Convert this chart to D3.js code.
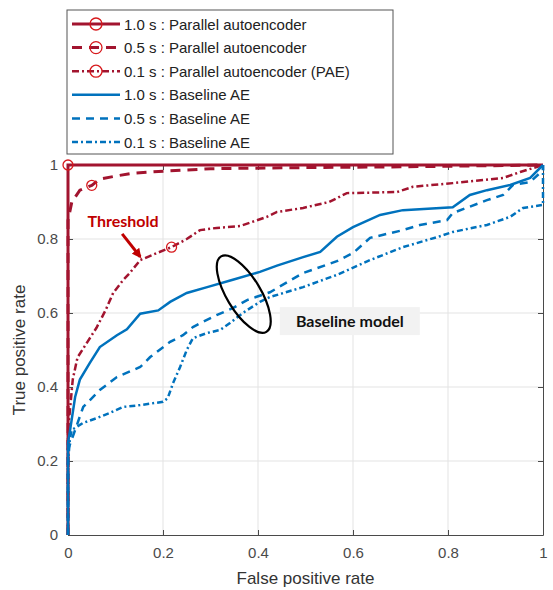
<!DOCTYPE html>
<html lang="en">
<head>
<meta charset="utf-8">
<title>ROC curves: parallel autoencoder vs baseline AE</title>
<script src="https://d3js.org/d3.v7.min.js"></script>
<style>
  body { margin: 0; background: #fff; }
  .tick text { font: 15px "Liberation Sans", Arial, sans-serif; fill: #4a4a4a; }
  .axis path, .axis line { stroke: #4a4a4a; }
</style>
</head>
<body>
<script>
// ROC points, [false positive rate, true positive rate]
const pae10 = [[0, 0], [0, 1], [1, 1]];
const pae05 = [[0, 0], [0, 0.85], [0.008, 0.9], [0.025, 0.932], [0.05, 0.945], [0.067, 0.962],
  [0.1, 0.97], [0.137, 0.978], [0.21, 0.984], [0.3, 0.99], [0.5, 0.993], [0.7, 0.995], [1, 1]];
const pae01 = [[0, 0], [0, 0.28], [0.01, 0.42], [0.02, 0.48], [0.04, 0.52], [0.06, 0.56],
  [0.08, 0.61], [0.095, 0.654], [0.116, 0.689], [0.13, 0.708], [0.152, 0.743], [0.187, 0.762],
  [0.218, 0.778], [0.25, 0.8], [0.278, 0.824], [0.313, 0.83], [0.362, 0.835], [0.419, 0.86],
  [0.44, 0.873], [0.495, 0.884], [0.55, 0.9], [0.587, 0.924], [0.693, 0.927], [0.726, 0.941],
  [0.81, 0.951], [0.916, 0.965], [0.952, 0.981], [1, 1]];
const base10 = [[0, 0], [0, 0.25], [0.004, 0.28], [0.015, 0.373], [0.025, 0.42], [0.046, 0.465],
  [0.067, 0.508], [0.103, 0.54], [0.124, 0.556], [0.152, 0.598], [0.19, 0.607], [0.215, 0.63],
  [0.25, 0.654], [0.293, 0.67], [0.347, 0.69], [0.404, 0.711], [0.44, 0.728], [0.495, 0.751],
  [0.531, 0.765], [0.566, 0.806], [0.6, 0.832], [0.657, 0.865], [0.705, 0.878], [0.81, 0.886],
  [0.846, 0.919], [0.882, 0.932], [0.931, 0.946], [0.973, 0.965], [1, 1]];
const base05 = [[0, 0], [0, 0.23], [0.015, 0.284], [0.032, 0.346], [0.067, 0.392], [0.103, 0.427],
  [0.152, 0.454], [0.173, 0.481], [0.215, 0.522], [0.242, 0.54], [0.263, 0.562], [0.284, 0.576],
  [0.314, 0.595], [0.347, 0.613], [0.377, 0.635], [0.425, 0.656], [0.495, 0.708], [0.566, 0.74],
  [0.6, 0.762], [0.636, 0.803], [0.705, 0.824], [0.741, 0.838], [0.798, 0.851], [0.81, 0.87],
  [0.882, 0.905], [0.916, 0.919], [0.937, 0.946], [0.973, 0.954], [1, 0.986], [1, 1]];
const base01 = [[0, 0], [0, 0.195], [0.004, 0.26], [0.008, 0.284], [0.032, 0.303], [0.061, 0.316],
  [0.088, 0.33], [0.116, 0.346], [0.152, 0.351], [0.2, 0.36], [0.21, 0.37], [0.221, 0.41],
  [0.236, 0.454], [0.25, 0.5], [0.263, 0.532], [0.293, 0.546], [0.32, 0.554], [0.341, 0.573],
  [0.368, 0.6], [0.404, 0.63], [0.425, 0.643], [0.495, 0.67], [0.566, 0.703], [0.636, 0.743],
  [0.705, 0.778], [0.777, 0.805], [0.81, 0.819], [0.882, 0.838], [0.931, 0.86], [0.958, 0.884],
  [1, 0.892], [1, 1]];

const seriesNames = ["1.0 s : Parallel autoencoder", "0.5 s : Parallel autoencoder",
  "0.1 s : Parallel autoencoder (PAE)", "1.0 s : Baseline AE", "0.5 s : Baseline AE", "0.1 s : Baseline AE"];
// index of the single marker drawn on each PAE curve
const markerIdx = [1, 4, 12, null, null, null];
const ticks = [0, 0.2, 0.4, 0.6, 0.8, 1];

const red = "#a2142f", blue = "#0072bd", markRed = "#d7191c";
const styles = [
  { color: red, width: 3, dash: null },
  { color: red, width: 3, dash: "10,7" },
  { color: red, width: 2.5, dash: "7,3,2,3" },
  { color: blue, width: 2.5, dash: null },
  { color: blue, width: 2.5, dash: "8,6" },
  { color: blue, width: 2.5, dash: "6,3,2,3" }
];
const allData = [pae10, pae05, pae01, base10, base05, base01];

const W = 553, H = 590;
const margin = { left: 68, top: 165, right: 10, bottom: 55 };
const w = W - margin.left - margin.right, h = H - margin.top - margin.bottom;

const x = d3.scaleLinear().domain([0, 1]).range([0, w]);
const y = d3.scaleLinear().domain([0, 1]).range([h, 0]);

const svg = d3.select("body").append("svg").attr("width", W).attr("height", H);
const g = svg.append("g").attr("transform", `translate(${margin.left},${margin.top})`);

// grid
g.append("g").selectAll("line").data(ticks.slice(1, -1)).join("line")
  .attr("x1", d => x(d)).attr("x2", d => x(d)).attr("y1", 0).attr("y2", h)
  .attr("stroke", "#e3e3e3");
g.append("g").selectAll("line").data(ticks.slice(1, -1)).join("line")
  .attr("y1", d => y(d)).attr("y2", d => y(d)).attr("x1", 0).attr("x2", w)
  .attr("stroke", "#e3e3e3");

// axes, ticks pointing inward like matlab
const fmt = d => d === 0 || d === 1 ? String(d) : d3.format(".1f")(d);
g.append("g").attr("class", "axis").attr("transform", `translate(0,${h})`)
  .call(d3.axisBottom(x).tickValues(ticks).tickFormat(fmt).tickSizeInner(-5).tickSizeOuter(0).tickPadding(12));
g.append("g").attr("class", "axis")
  .call(d3.axisLeft(y).tickValues(ticks).tickFormat(fmt).tickSizeInner(-5).tickSizeOuter(0).tickPadding(10));
g.append("g").attr("class", "axis").attr("transform", `translate(${w},0)`)
  .call(d3.axisRight(y).tickValues(ticks).tickFormat("").tickSizeInner(-5).tickSizeOuter(0));
g.append("g").attr("class", "axis")
  .call(d3.axisTop(x).tickValues(ticks).tickFormat("").tickSizeInner(-5).tickSizeOuter(0));

const line = d3.line().x(d => x(d[0])).y(d => y(d[1]));

// PAE curves first, baseline drawn over them (as in the figure)
const order = [0, 1, 2, 3, 4, 5];
order.forEach(i => {
  g.append("path").datum(allData[i])
    .attr("d", line)
    .attr("fill", "none")
    .attr("stroke", styles[i].color)
    .attr("stroke-width", styles[i].width)
    .attr("stroke-dasharray", styles[i].dash);
});
order.forEach(i => {
  if (markerIdx[i] == null) return;
  const p = allData[i][markerIdx[i]];
  g.append("circle").attr("cx", x(p[0])).attr("cy", y(p[1])).attr("r", 5)
    .attr("fill", "none").attr("stroke", markRed).attr("stroke-width", 1.3);
});

// annotations
g.append("text").attr("x", x(0.116)).attr("y", y(0.832))
  .attr("text-anchor", "middle")
  .style("font", "bold 16px Lato, sans-serif").attr("fill", "#c00000").text("Threshold");
svg.append("defs").append("marker").attr("id", "arr")
  .attr("viewBox", "0 0 10 10").attr("refX", 8).attr("refY", 5)
  .attr("markerWidth", 3.2).attr("markerHeight", 3.2).attr("orient", "auto")
  .append("path").attr("d", "M0,0L10,5L0,10z").attr("fill", "#c00000");
g.append("line")
  .attr("x1", x(0.114)).attr("y1", y(0.814)).attr("x2", x(0.152)).attr("y2", y(0.752))
  .attr("stroke", "#c00000").attr("stroke-width", 3).attr("marker-end", "url(#arr)");

g.append("ellipse")
  .attr("transform", `translate(${x(0.37)},${y(0.651)}) rotate(59)`)
  .attr("rx", 44).attr("ry", 17)
  .attr("fill", "none").attr("stroke", "#000").attr("stroke-width", 2.2);

g.append("rect").attr("x", x(0.446)).attr("y", y(0.616)).attr("width", 140).attr("height", 28)
  .attr("fill", "#f2f2f2");
g.append("text").attr("x", x(0.446) + 70).attr("y", y(0.616) + 20)
  .attr("text-anchor", "middle")
  .style("font", "bold 16px Lato, sans-serif").attr("fill", "#111").text("Baseline model");

// axis labels
svg.append("text").attr("x", margin.left + w / 2).attr("y", H - 6)
  .attr("text-anchor", "middle").style("font", "17px 'Liberation Sans', Arial, sans-serif")
  .attr("fill", "#333").text("False positive rate");
svg.append("text").attr("transform", `translate(25,${margin.top + h / 2}) rotate(-90)`)
  .attr("text-anchor", "middle").style("font", "17px 'Liberation Sans', Arial, sans-serif")
  .attr("fill", "#333").text("True positive rate");

// legend
const leg = svg.append("g").attr("transform", "translate(67,10)");
leg.append("rect").attr("width", 326).attr("height", 144)
  .attr("fill", "#fff").attr("stroke", "#555").attr("stroke-width", 1);
seriesNames.forEach((name, i) => {
  const ly = 14 + i * 23.6;
  leg.append("line").attr("x1", 5).attr("x2", 53).attr("y1", ly).attr("y2", ly)
    .attr("stroke", styles[i].color).attr("stroke-width", styles[i].width)
    .attr("stroke-dasharray", styles[i].dash);
  if (markerIdx[i] != null) {
    leg.append("circle").attr("cx", 29).attr("cy", ly).attr("r", 6)
      .attr("fill", "none").attr("stroke", markRed).attr("stroke-width", 1.3);
  }
  leg.append("text").attr("x", 57).attr("y", ly + 5.5)
    .style("font", "15px 'Liberation Sans', Arial, sans-serif").attr("fill", "#222").text(name);
});
</script>
</body>
</html>
